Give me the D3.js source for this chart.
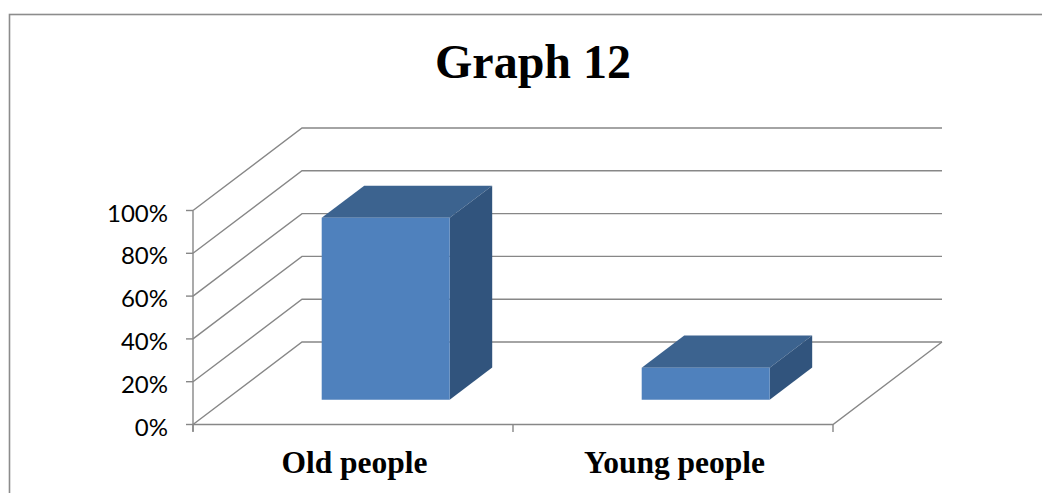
<!DOCTYPE html>
<html>
<head>
<meta charset="utf-8">
<script src="https://cdn.jsdelivr.net/npm/d3@7/dist/d3.min.js"></script>
<style>
  html, body { margin: 0; padding: 0; background: #ffffff; }
  svg { display: block; }
</style>
</head>
<body>
<svg id="chart" width="1042" height="493"></svg>
<script>
// Chart data
const title = "Graph 12";
const categories = ["Old people", "Young people"];
const values = [0.85, 0.15];
const yTicks = [0, 0.2, 0.4, 0.6, 0.8, 1.0];

const svg = d3.select("#chart");

// Outer frame
svg.append("rect")
  .attr("x", 9.5).attr("y", 14.5)
  .attr("width", 1100).attr("height", 600)
  .attr("fill", "none")
  .attr("stroke", "#8c8c8c")
  .attr("stroke-width", 1.6);

// Front plane scales
const x = d3.scaleBand().domain(categories).range([193, 833]).padding(0);
const y = d3.scaleLinear().domain([0, 1]).range([424.5, 210.5]);

// Oblique depth projection: t = 0 at the front plane, 1 at the back wall
const depth = d3.scaleLinear().domain([0, 1]);
const depthDX = depth.copy().range([0, 109]);
const depthDY = depth.copy().range([0, -82.5]);
const P = (px, py, t) => [px + depthDX(t), py + depthDY(t)];

const gridColor = "#878787";
const gridWidth = 1.4;
const line = d3.line();
const g = svg.append("g");

// Side wall diagonals and back wall gridlines
yTicks.forEach(v => {
  const front = [x.range()[0], y(v)];
  const back = P(x.range()[0], y(v), 1);
  const backRight = P(x.range()[1], y(v), 1);
  g.append("path")
    .attr("d", line([front, back, backRight]))
    .attr("fill", "none")
    .attr("stroke", gridColor)
    .attr("stroke-width", gridWidth);
});

// Floor outline: front edge (category axis) and right edge
g.append("path")
  .attr("d", line([[x.range()[0], y(0)], [x.range()[1], y(0)], P(x.range()[1], y(0), 1)]))
  .attr("fill", "none")
  .attr("stroke", gridColor)
  .attr("stroke-width", gridWidth);

// Value axis line and ticks
g.append("line")
  .attr("x1", 193).attr("x2", 193)
  .attr("y1", y(1)).attr("y2", y(0) + 7)
  .attr("stroke", gridColor).attr("stroke-width", gridWidth);
yTicks.forEach(v => {
  g.append("line")
    .attr("x1", 186).attr("x2", 193)
    .attr("y1", y(v)).attr("y2", y(v))
    .attr("stroke", gridColor).attr("stroke-width", gridWidth);
});

// Category axis ticks (slot boundaries)
const boundaries = categories.map(c => x(c)).concat([x.range()[1]]);
boundaries.forEach(bx => {
  g.append("line")
    .attr("x1", bx).attr("x2", bx)
    .attr("y1", y(0)).attr("y2", y(0) + 7.5)
    .attr("stroke", gridColor).attr("stroke-width", gridWidth);
});

// Value axis labels
const fmt = d3.format(".0%");
svg.append("g").selectAll("text")
  .data(yTicks)
  .join("text")
  .attr("x", 168)
  .attr("y", d => y(d) + 11)
  .attr("text-anchor", "end")
  .attr("font-family", "Lato, 'Open Sans', sans-serif")
  .attr("font-size", 24)
  .attr("fill", "#000")
  .text(d => fmt(d));

// 3D columns
const t0 = 0.3, t1 = 0.69;
const barFrac = 0.4;
const bars = svg.append("g");
categories.forEach((c, i) => {
  const bw = x.bandwidth() * barFrac;
  const left = x(c) + (x.bandwidth() - bw) / 2;
  const right = left + bw;
  const base = y(0), top = y(values[i]);
  const fBL = P(left, base, t0), fBR = P(right, base, t0);
  const fTL = P(left, top, t0), fTR = P(right, top, t0);
  const bTL = P(left, top, t1), bTR = P(right, top, t1), bBR = P(right, base, t1);

  // top face
  bars.append("path")
    .attr("d", line([fTL, fTR, bTR, bTL]) + "Z")
    .attr("fill", "#3c638f");
  // right side face
  bars.append("path")
    .attr("d", line([fTR, bTR, bBR, fBR]) + "Z")
    .attr("fill", "#31547d");
  // front face
  bars.append("path")
    .attr("d", line([fTL, fTR, fBR, fBL]) + "Z")
    .attr("fill", "#4f81bd");
});

// Category labels
svg.append("g").selectAll("text")
  .data(categories)
  .join("text")
  .attr("x", d => x(d) + x.bandwidth() / 2 + 1.5)
  .attr("y", 473)
  .attr("text-anchor", "middle")
  .attr("font-family", "'Liberation Serif', 'Times New Roman', serif")
  .attr("font-weight", "bold")
  .attr("font-size", 31.5)
  .attr("fill", "#000")
  .text(d => d);

// Title
svg.append("text")
  .attr("x", 533)
  .attr("y", 78)
  .attr("text-anchor", "middle")
  .attr("font-family", "'Liberation Serif', 'Times New Roman', serif")
  .attr("font-weight", "bold")
  .attr("font-size", 48)
  .attr("fill", "#000")
  .text(title);
</script>
</body>
</html>
